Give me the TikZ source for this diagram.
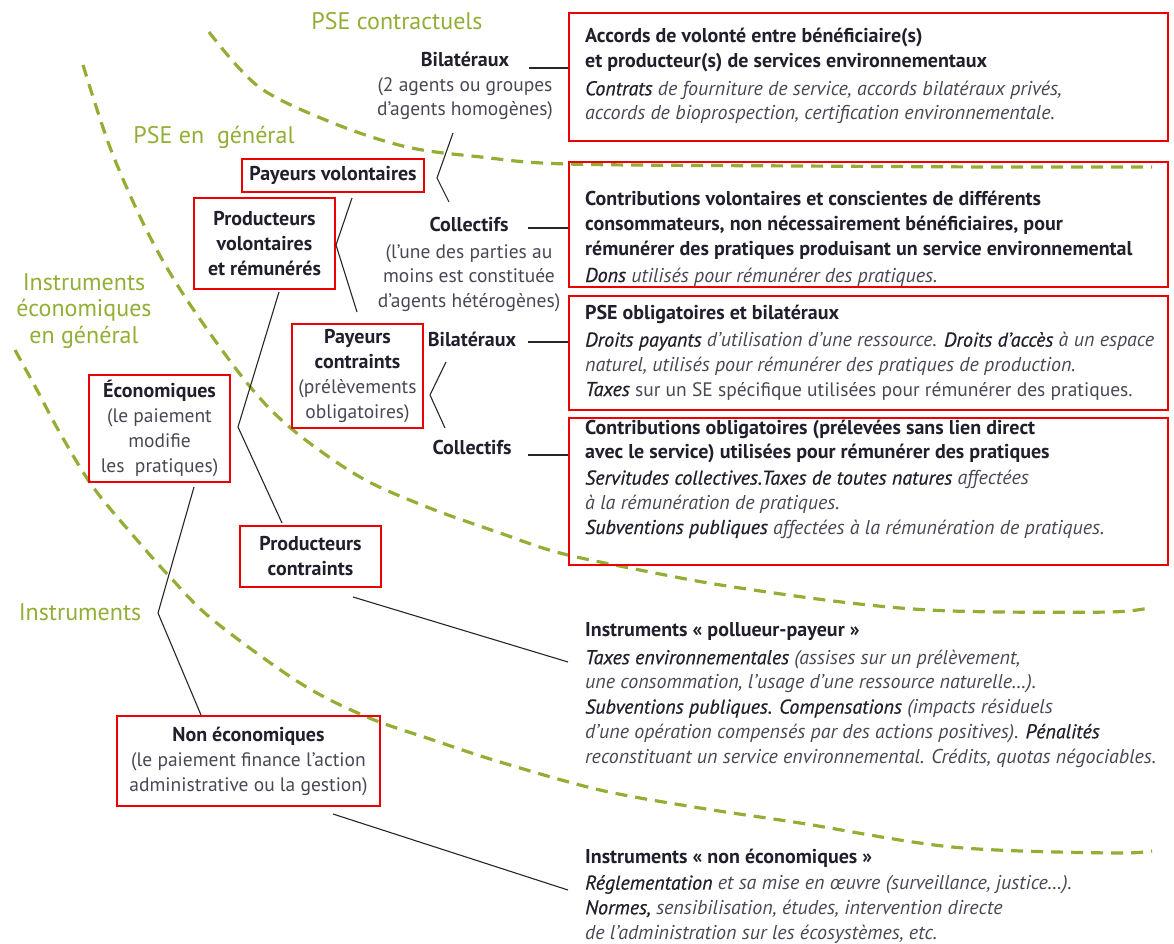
\documentclass[tikz,border=0pt]{standalone}
\usepackage{fontspec}
\setmainfont{PT Sans}
\definecolor{pgreen}{RGB}{146,174,52}
\definecolor{bred}{RGB}{236,0,0}
\definecolor{tdark}{RGB}{32,32,44}
\definecolor{tgrey}{RGB}{72,72,84}
\newcommand{\kwd}[1]{{\itshape\addfontfeature{FakeBold=0.6}\color{tdark}#1}}
\newcommand{\dsc}[1]{{\itshape\color{tgrey}#1}}
\newcommand{\prn}[1]{{\fontsize{19.5}{24.7}\selectfont\color{tgrey}#1}}
\begin{document}
\begin{tikzpicture}[x=1pt,y=-1pt,
  zone/.style={draw=pgreen, line width=3.2pt, dash pattern=on 12pt off 8pt},
  zonelabel/.style={text=pgreen, font=\fontsize{24}{26.5}\selectfont, align=center, inner sep=0pt, anchor=base},
  redbox/.style={draw=bred, line width=2.4pt, inner sep=0pt, align=center, text=tdark, font=\fontsize{20}{25}\selectfont},
  lab/.style={inner sep=0pt, align=center, text=tdark, font=\fontsize{20}{24.5}\selectfont, anchor=base},
  desc/.style={inner sep=0pt, align=left, text=tdark, font=\fontsize{20}{24.7}\selectfont, anchor=base west},
  link/.style={draw=black!85, line width=1.1pt},
]
\useasboundingbox (0,0) rectangle (1174,944);

% ---- zone boundaries
\draw[zone] plot[smooth, tension=0.55] coordinates {(209,32) (259,87) (333,123) (407,147) (481,157) (567,164) (800,166) (1000,167) (1152,167)};
\draw[zone] plot[smooth, tension=0.55] coordinates {(83,65) (111,150) (148,233) (187,300) (247,383) (293,430) (360,477) (427,507) (500,533) (560,553) (650,572) (727,586) (850,603) (952,611) (1109,612) (1152,607)};
\draw[zone] plot[smooth, tension=0.55] coordinates {(15,350) (37,390) (60,433) (93,487) (137,540) (170,577) (213,620) (300,683) (367,717) (433,740) (500,762) (600,790) (700,808) (800,823) (952,847) (1109,853) (1152,851)};

% ---- zone labels
\node[zonelabel] (zpc) at (397,30) {PSE contractuels};
\node[zonelabel] (zpg) at (214,144) {PSE en\ \ général};
\node[zonelabel] (zie) at (84,343) {Instruments\\économiques\\en général};
\node[zonelabel] (zin) at (80,620) {Instruments};

% ---- boxes on the tree
\node[redbox, minimum width=182pt, minimum height=33pt] (pv) at (333,175.5) {\textbf{Payeurs volontaires}};
\node[redbox, minimum width=141pt, minimum height=91pt] (prv) at (264.5,243.5) {\textbf{Producteurs}\\\textbf{volontaires}\\\textbf{et rémunérés}};
\node[redbox, minimum width=131pt, minimum height=104pt] (pc) at (357.5,376) {\textbf{Payeurs}\\\textbf{contraints}\\\prn{(prélèvements}\\\prn{obligatoires)}};
\node[redbox, minimum width=141pt, minimum height=107pt] (eco) at (159.5,428.5) {\textbf{Économiques}\\\prn{(le paiement}\\\prn{modifie}\\\prn{les\ \ pratiques)}};
\node[redbox, minimum width=141pt, minimum height=61pt] (prc) at (310.5,556.5) {\textbf{Producteurs}\\\textbf{contraints}};
\node[redbox, minimum width=263pt, minimum height=90pt] (neco) at (248.5,761) {\textbf{Non économiques}\\\prn{(le paiement finance l’action}\\\prn{administrative ou la gestion)}};

% ---- intermediate labels (base = last line)
\node[lab] (bil1) at (465,116) {\textbf{Bilatéraux}\\\prn{(2 agents ou groupes}\\\prn{d’agents homogènes)}};
\node[lab] (col1) at (469,307) {\textbf{Collectifs}\\[2pt]\prn{(l’une des parties au}\\\prn{moins est constituée}\\\prn{d’agents hétérogènes)}};
\node[lab] (bil2) at (472,346) {\textbf{Bilatéraux}};
\node[lab] (col2) at (472,454) {\textbf{Collectifs}};

% ---- description boxes
\node[redbox, minimum width=599pt, minimum height=128pt] (r1) at (868.5,77) {};
\node[redbox, minimum width=599pt, minimum height=125pt] (r2) at (868.5,224.5) {};
\node[redbox, minimum width=599pt, minimum height=114pt] (r3) at (868.5,353) {};
\node[redbox, minimum width=599pt, minimum height=147pt] (r4) at (868.5,491.5) {};

\node[desc] (d1) at (585,120) {\textbf{Accords de volonté entre bénéficiaire(s)}\\
\textbf{et producteur(s) de services environnementaux}\\[3pt]
\kwd{Contrats} \dsc{de fourniture de service, accords bilatéraux privés,}\\
\dsc{accords de bioprospection, certification environnementale.}};

\node[desc] (d2) at (585,282) {\textbf{Contributions volontaires et conscientes de différents}\\
\textbf{consommateurs, non nécessairement bénéficiaires, pour}\\
\textbf{rémunérer des pratiques produisant un service environnemental}\\[2pt]
\kwd{Dons} \dsc{utilisés pour rémunérer des pratiques.}};

\node[desc] (d3) at (585,396) {\textbf{PSE obligatoires et bilatéraux}\\[2pt]
\kwd{Droits payants} \dsc{d’utilisation d’une ressource.} \kwd{Droits d’accès} \dsc{à un espace}\\
\dsc{naturel, utilisés pour rémunérer des pratiques de production.}\\
\kwd{Taxes} \prn{sur un SE spécifique utilisées pour rémunérer des pratiques.}};

\node[desc] (d4) at (585,534) {\textbf{Contributions obligatoires (prélevées sans lien direct}\\
\textbf{avec le service) utilisées pour rémunérer des pratiques}\\[1pt]
\kwd{Servitudes collectives.Taxes de toutes natures} \dsc{affectées}\\
\dsc{à la rémunération de pratiques.}\\
\kwd{Subventions publiques} \dsc{affectées à la rémunération de pratiques.}};

\node[desc] (d5) at (585,763) {\textbf{Instruments « pollueur-payeur »}\\[3pt]
\kwd{Taxes environnementales} \dsc{(assises sur un prélèvement,}\\
\dsc{une consommation, l’usage d’une ressource naturelle…).}\\
\kwd{Subventions publiques. Compensations} \dsc{(impacts résiduels}\\
\dsc{d’une opération compensés par des actions positives).} \kwd{Pénalités}\\
\dsc{reconstituant un service environnemental. Crédits, quotas négociables.}};

\node[desc] (d6) at (585,939) {\textbf{Instruments « non économiques »}\\[1pt]
\kwd{Réglementation} \dsc{et sa mise en œuvre (surveillance, justice…).}\\
\kwd{Normes,} \dsc{sensibilisation, études, intervention directe}\\
\dsc{de l’administration sur les écosystèmes, etc.}};

% ---- tree connectors
\coordinate (a1) at (194,487); \coordinate (a2) at (158,613); \coordinate (a3) at (201,715);
\draw[link] (a1) -- (a2) -- (a3);
\coordinate (b1) at (279,292); \coordinate (b2) at (238,427); \coordinate (b3) at (282,523);
\draw[link] (b1) -- (b2) -- (b3);
\coordinate (c1) at (352,198); \coordinate (c2) at (336,245); \coordinate (c3) at (357,312);
\draw[link] (c1) -- (c2) -- (c3);
\coordinate (e1) at (453,133); \coordinate (e2) at (437,178); \coordinate (e3) at (449,202);
\draw[link] (e1) -- (e2) -- (e3);
\coordinate (f1) at (446,362); \coordinate (f2) at (430,395); \coordinate (f3) at (445,428);
\draw[link] (f1) -- (f2) -- (f3);

% ---- connectors to descriptions
\coordinate (g1) at (529,68);  \draw[link] (g1) -- (g1 -| r1.west);
\coordinate (g2) at (528,228); \draw[link] (g2) -- (g2 -| r2.west);
\coordinate (g3) at (528,342); \draw[link] (g3) -- (g3 -| r3.west);
\coordinate (g4) at (528,455); \draw[link] (g4) -- (g4 -| r4.west);
\coordinate (h1) at (353,597); \coordinate (h2) at (568,662); \draw[link] (h1) -- (h2);
\coordinate (k1) at (333,814); \coordinate (k2) at (568,890); \draw[link] (k1) -- (k2);
\end{tikzpicture}
\end{document}
